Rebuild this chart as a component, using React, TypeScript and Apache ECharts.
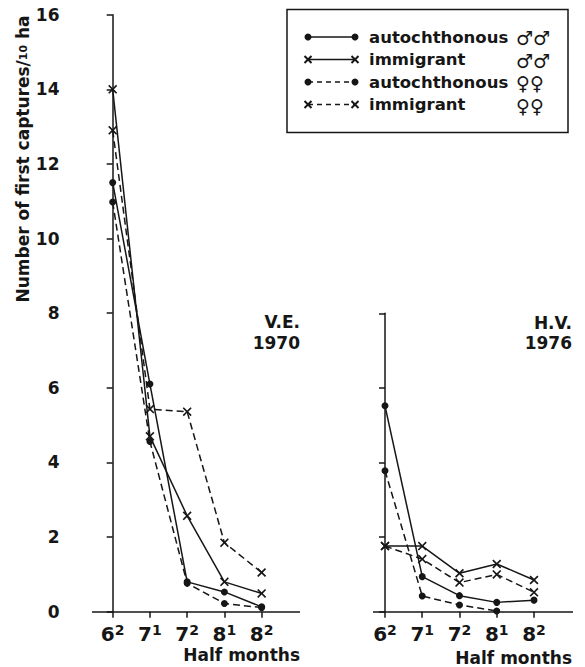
import React, { useEffect, useRef } from 'react';
import * as echarts from 'echarts';

// Half-month categories: main digit + superscript
const categoryMain = ['6', '7', '7', '8', '8'];
const categorySup = ['2', '1', '2', '1', '2'];
const categoryIndex = [0, 1, 2, 3, 4];

// V.E. 1970 (first captures / 10 ha)
const ve1970AutochthonousMales = [11.5, 6.1, 0.8, 0.53, 0.13];
const ve1970ImmigrantMales = [14.0, 4.7, 2.57, 0.8, 0.49];
const ve1970AutochthonousFemales = [10.98, 4.56, 0.76, 0.22, 0.11];
const ve1970ImmigrantFemales = [12.9, 5.43, 5.36, 1.85, 1.05];

// H.V. 1976
const hv1976AutochthonousMales = [5.52, 0.94, 0.43, 0.25, 0.31];
const hv1976ImmigrantMales = [1.76, 1.76, 1.03, 1.28, 0.85];
const hv1976AutochthonousFemales = [3.78, 0.42, 0.18, 0.02, null];
const hv1976ImmigrantFemales = [1.76, 1.41, 0.78, 1.0, 0.52];

const legendLabels = ['autochthonous', 'immigrant', 'autochthonous', 'immigrant'];
const legendSex = ['♂♂', '♂♂', '♀♀', '♀♀'];

const INK = '#161616';
const FONT = '"DejaVu Sans", "Liberation Sans", sans-serif';
const X_PATH =
  'path://M0,1.3L1.3,0L5,3.7L8.7,0L10,1.3L6.3,5L10,8.7L8.7,10L5,6.3L1.3,10L0,8.7L3.7,5Z';

const seriesStyles = [
  { dashed: false, cross: false },
  { dashed: false, cross: true },
  { dashed: true, cross: false },
  { dashed: true, cross: true },
];

function makeSeries(
  name: string,
  values: (number | null)[],
  grid: number,
  st: { dashed: boolean; cross: boolean },
  baseline?: [number, number]
) {
  const s: any = {
    type: 'line',
    name,
    xAxisIndex: grid,
    yAxisIndex: grid,
    data: values
      .map((v, i) => [categoryIndex[i], v])
      .filter((p) => p[1] !== null),
    symbol: st.cross ? X_PATH : 'circle',
    symbolSize: st.cross ? 9 : 7,
    showSymbol: true,
    lineStyle: { color: INK, width: 1.5, type: st.dashed ? [7, 4] : 'solid' },
    itemStyle: { color: INK, borderWidth: 0 },
    emphasis: { disabled: true },
    silent: true,
    clip: false,
    z: 3,
  };
  if (baseline) {
    s.markLine = {
      silent: true,
      symbol: ['none', 'none'],
      label: { show: false },
      emphasis: { disabled: true },
      lineStyle: { color: INK, width: 1.5, type: 'solid' },
      data: [[{ coord: [baseline[0], 0] }, { coord: [baseline[1], 0] }]],
    };
  }
  return s;
}

function xAxis(grid: number, min: number, max: number) {
  return {
    type: 'value',
    gridIndex: grid,
    min,
    max,
    axisLine: { show: false },
    axisTick: { show: true, customValues: categoryIndex, length: 6, lineStyle: { color: INK, width: 1.5 } },
    axisLabel: {
      customValues: categoryIndex,
      margin: 11,
      formatter: (v: number) => {
        const i = Math.round(v);
        return `{m|${categoryMain[i]}}{s|${categorySup[i]}}`;
      },
      rich: {
        m: { fontSize: 20, fontWeight: 'bold', fontFamily: FONT, color: INK, lineHeight: 22 },
        s: { fontSize: 14, fontWeight: 'bold', fontFamily: FONT, color: INK, lineHeight: 12, verticalAlign: 'top' },
      },
    },
    splitLine: { show: false },
  };
}

function yAxis(grid: number, max: number, labels: boolean) {
  return {
    type: 'value',
    gridIndex: grid,
    position: 'left',
    min: 0,
    max,
    interval: 2,
    axisLine: { show: true, lineStyle: { color: INK, width: 1.5 } },
    axisTick: { show: true, length: 6, lineStyle: { color: INK, width: 1.5 } },
    axisLabel: { show: labels, fontSize: 17, fontWeight: 'bold', fontFamily: FONT, color: INK, margin: 12 },
    splitLine: { show: false },
  };
}

function textEl(text: string, x: number, y: number, align: string, size = 17, weight = 'bold', family = FONT) {
  return {
    type: 'text',
    silent: true,
    style: {
      text,
      x,
      y,
      fill: INK,
      font: `${weight} ${size}px ${family}`,
      textAlign: align,
      verticalAlign: 'middle',
      textVerticalAlign: 'middle',
    },
  };
}

function legendGraphics() {
  const els: any[] = [
    {
      type: 'rect',
      silent: true,
      shape: { x: 287, y: 9.5, width: 281, height: 123 },
      style: { fill: '#fff', stroke: INK, lineWidth: 1.5 },
    },
  ];
  legendLabels.forEach((label, i) => {
    const y = 37 + 22.5 * i;
    const st = seriesStyles[i];
    els.push({
      type: 'line',
      silent: true,
      shape: { x1: 308, y1: y, x2: 355, y2: y },
      style: { stroke: INK, lineWidth: 1.5, lineDash: st.dashed ? [5, 4] : null },
    });
    [308, 355].forEach((mx) => {
      if (st.cross) {
        els.push({ type: 'line', silent: true, shape: { x1: mx - 3.5, y1: y - 3.5, x2: mx + 3.5, y2: y + 3.5 }, style: { stroke: INK, lineWidth: 2 } });
        els.push({ type: 'line', silent: true, shape: { x1: mx - 3.5, y1: y + 3.5, x2: mx + 3.5, y2: y - 3.5 }, style: { stroke: INK, lineWidth: 2 } });
      } else {
        els.push({ type: 'circle', silent: true, shape: { cx: mx, cy: y, r: 3.5 }, style: { fill: INK } });
      }
    });
    els.push(textEl(label, 369, y, 'left', 16.5));
    els.push(textEl(legendSex[i], 516, y + 1, 'left', 19, 'normal'));
  });
  return els;
}

export default function App() {
  const ref = useRef<HTMLDivElement>(null);
  useEffect(() => {
    if (!ref.current) return;
    const chart = echarts.init(ref.current, undefined, { renderer: 'svg' });
    const option: any = {
      animation: false,
      backgroundColor: '#ffffff',
      grid: [
        { left: 71.5, top: 14.7, width: 228.5, height: 597 },
        { left: 353.3, top: 313.3, width: 219.7, height: 298.4 },
      ],
      xAxis: [xAxis(0, -1.106, 5.03), xAxis(1, -0.851, 5.047)],
      yAxis: [yAxis(0, 16, true), yAxis(1, 8, false)],
      series: [
        makeSeries('autochthonous ♂♂ V.E.', ve1970AutochthonousMales, 0, seriesStyles[0], [-0.556, 5.03]),
        makeSeries('immigrant ♂♂ V.E.', ve1970ImmigrantMales, 0, seriesStyles[1]),
        makeSeries('autochthonous ♀♀ V.E.', ve1970AutochthonousFemales, 0, seriesStyles[2]),
        makeSeries('immigrant ♀♀ V.E.', ve1970ImmigrantFemales, 0, seriesStyles[3]),
        makeSeries('autochthonous ♂♂ H.V.', hv1976AutochthonousMales, 1, seriesStyles[0], [-0.322, 5.047]),
        makeSeries('immigrant ♂♂ H.V.', hv1976ImmigrantMales, 1, seriesStyles[1]),
        makeSeries('autochthonous ♀♀ H.V.', hv1976AutochthonousFemales, 1, seriesStyles[2]),
        makeSeries('immigrant ♀♀ H.V.', hv1976ImmigrantFemales, 1, seriesStyles[3]),
      ],
      graphic: [
        ...legendGraphics(),
        textEl('V.E.', 300, 322, 'right', 17),
        textEl('1970', 300, 343, 'right', 17),
        textEl('H.V.', 572, 323, 'right', 17),
        textEl('1976', 572, 343, 'right', 17),
        textEl('Half months', 300, 655, 'right', 17),
        textEl('Half months', 572, 658, 'right', 17),
        {
          type: 'text',
          silent: true,
          x: 23,
          y: 159,
          rotation: Math.PI / 2,
          style: {
            text: '{a|Number of first captures/}{s|10}{a| ha}',
            x: 0,
            y: 0,
            textAlign: 'center',
            verticalAlign: 'middle',
            textVerticalAlign: 'middle',
            rich: {
              a: { fontSize: 17, fontWeight: 'bold', fontFamily: FONT, fill: INK, color: INK },
              s: { fontSize: 11, fontWeight: 'bold', fontFamily: FONT, fill: INK, color: INK },
            },
          },
        },
      ],
    };
    chart.setOption(option);
    return () => chart.dispose();
  }, []);
  return (
    <div
      ref={ref}
      style={{ position: 'fixed', left: 0, top: 0, width: 585, height: 667, background: '#fff' }}
    />
  );
}
